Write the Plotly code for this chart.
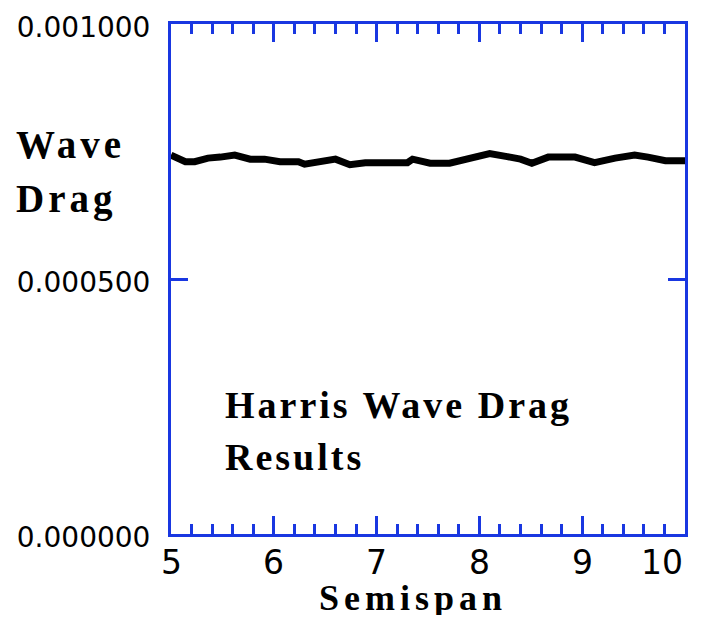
import plotly.graph_objects as go

# Data
semispan = [5.00, 5.14, 5.23, 5.36, 5.48, 5.62, 5.77, 5.91, 6.06, 6.24, 6.30,
            6.47, 6.60, 6.74, 6.89, 7.13, 7.30, 7.35, 7.52, 7.71, 7.84, 7.98,
            8.10, 8.27, 8.40, 8.51, 8.67, 8.93, 9.12, 9.32, 9.51, 9.64, 9.81, 10.00]
wave_drag = [0.000743, 0.000730, 0.000730, 0.000737, 0.000739, 0.000743, 0.000735,
             0.000735, 0.000730, 0.000730, 0.000725, 0.000730, 0.000735, 0.000724,
             0.000728, 0.000728, 0.000728, 0.000735, 0.000727, 0.000727, 0.000733,
             0.000740, 0.000746, 0.000740, 0.000735, 0.000727, 0.000739, 0.000739,
             0.000728, 0.000737, 0.000743, 0.000739, 0.000732, 0.000732]
x_ticks = [5, 6, 7, 8, 9, 10]
x_tick_labels = ["5", "6", "7", "8", "9", "10"]
y_ticks = [0.0, 0.0005, 0.001]

AXIS_BLUE = "rgb(25,55,225)"
SERIF = "Liberation Serif"

fig = go.Figure()
fig.add_trace(go.Scatter(x=semispan, y=wave_drag, mode="lines",
                         line=dict(color="black", width=7), hoverinfo="skip"))

fig.update_layout(
    width=695, height=611,
    margin=dict(l=163, r=18, t=16, b=85),
    paper_bgcolor="white", plot_bgcolor="white",
    showlegend=False,
    xaxis=dict(range=[5, 10], tickvals=x_ticks, showticklabels=False,
               ticks="inside", ticklen=18, tickwidth=3, tickcolor=AXIS_BLUE,
               showline=True, linecolor=AXIS_BLUE, linewidth=3, mirror="ticks",
               showgrid=False, zeroline=False, automargin=False,
               minor=dict(dtick=0.2, ticks="inside", ticklen=10, tickwidth=3,
                          tickcolor=AXIS_BLUE, showgrid=False)),
    yaxis=dict(range=[0, 0.001], tickvals=y_ticks, tickformat=".6f",
               ticks="inside", ticklen=17, tickwidth=3, tickcolor=AXIS_BLUE,
               showline=True, linecolor=AXIS_BLUE, linewidth=3, mirror="ticks",
               showgrid=False, zeroline=False, automargin=False,
               tickfont=dict(family="DejaVu Sans", size=28, color="black"),
               ticklabelstandoff=12, ticklabelshift=3, ticklabeloverflow="allow"),
)

# x tick labels (last one right-aligned to the axis end, as in the reference)
for v, t in zip(x_ticks, x_tick_labels):
    fig.add_annotation(text=t, xref="x", yref="paper", x=v, y=0,
                       xanchor="right" if v == x_ticks[-1] else "center",
                       yanchor="top", yshift=-13, height=26, valign="middle",
                       showarrow=False,
                       font=dict(family="DejaVu Sans", size=33, color="black"))

def label(text, x, y, xanchor="left", size=38, spacing=3, height=None):
    fig.add_annotation(text=f'<span style="letter-spacing:{spacing}px">{text}</span>',
                       xref="paper", yref="paper", x=x, y=y,
                       xanchor=xanchor, yanchor="middle", showarrow=False,
                       height=height, valign="middle",
                       font=dict(family=SERIF, size=size, color="black", weight="bold"))

label("Wave", -0.305, 0.7647, size=39, spacing=4)
label("Drag", -0.305, 0.657, size=39, spacing=4)
label("Harris Wave Drag", 0.1012, 0.253)
label("Results", 0.1012, 0.151)
label("Semispan", 0.471, -0.1255, xanchor="center", size=36, spacing=5, height=34)

fig.write_html("out.html")
